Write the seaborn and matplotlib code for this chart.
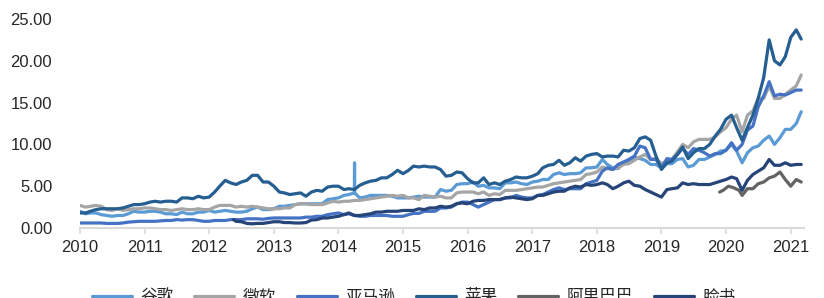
import numpy as np
import pandas as pd
import matplotlib
matplotlib.use("Agg")
import matplotlib.pyplot as plt
import matplotlib.dates as mdates
import seaborn as sns

# ---------------- data (market value, 100 bn USD) ----------------
companies = ["谷歌", "微软", "亚马逊", "苹果", "阿里巴巴", "脸书"]
colors = ["#5b9bd5", "#a5a5a5", "#4472c4", "#255e91", "#636363", "#264478"]

# monthly grid 2010-01 .. 2021-03 for the four long series
month_grid = pd.date_range("2010-01-01", "2021-03-01", freq="MS")

google = [
    2.0, 1.7, 1.8, 1.8, 1.6, 1.5, 1.4, 1.5, 1.5, 1.7, 2.0, 1.9,
    1.9, 2.0, 2.0, 1.9, 1.7, 1.7, 1.6, 1.9, 1.7, 1.7, 1.9, 1.9,
    2.1, 1.9, 2.0, 2.1, 2.0, 1.9, 1.9, 2.0, 2.3, 2.5, 2.2, 2.2,
    2.3, 2.6, 2.6, 2.7, 2.8, 2.9, 2.9, 2.9, 2.9, 2.9, 3.4, 3.5,
    3.6, 3.9, 4.0, 4.2, 3.6, 3.7, 3.9, 3.9, 3.9, 3.9, 3.8, 3.6,
    3.6, 3.6, 3.7, 3.8, 3.7, 3.7, 3.7, 4.6, 4.4, 4.5, 5.2, 5.3,
    5.3, 5.5, 5.0, 5.1, 4.8, 4.8, 4.7, 5.4, 5.4, 5.5, 5.3, 5.2,
    5.5, 5.6, 5.8, 5.8, 6.4, 6.6, 6.4, 6.5, 6.5, 6.6, 7.2, 7.2,
    7.3, 8.2, 7.6, 7.2, 7.1, 7.8, 7.8, 8.5, 8.3, 8.1, 7.6, 7.6,
    7.2, 7.7, 7.7, 8.2, 8.3, 7.3, 7.5, 8.2, 8.2, 8.5, 8.8, 9.2,
    9.3, 10.0, 9.2, 7.8, 9.0, 9.6, 9.8, 10.5, 11.0, 10.0, 10.8, 11.8,
    11.8, 12.5, 13.9,
]
# one-day data glitch visible on the Google line (April 2014)
google_spike_dates = ["2014-04-02", "2014-04-03"]
google_spike_vals = [7.8, 4.2]

microsoft = [
    2.7, 2.5, 2.6, 2.7, 2.6, 2.2, 2.1, 2.3, 2.1, 2.2, 2.3, 2.3,
    2.4, 2.4, 2.3, 2.2, 2.2, 2.1, 2.2, 2.3, 2.2, 2.2, 2.3, 2.2,
    2.2, 2.5, 2.7, 2.7, 2.7, 2.5, 2.6, 2.5, 2.6, 2.5, 2.4, 2.3,
    2.3, 2.3, 2.4, 2.4, 2.8, 2.9, 2.9, 2.8, 2.8, 2.8, 3.0, 3.2,
    3.1, 3.2, 3.2, 3.3, 3.3, 3.4, 3.5, 3.6, 3.7, 3.8, 3.9, 3.8,
    3.9, 3.6, 3.6, 3.4, 3.9, 3.8, 3.7, 3.8, 3.6, 3.6, 4.2, 4.3,
    4.3, 4.3, 4.1, 4.3, 3.9, 4.1, 4.0, 4.5, 4.5, 4.5, 4.6, 4.7,
    4.8, 4.9, 4.9, 5.1, 5.3, 5.4, 5.5, 5.6, 5.7, 5.8, 6.4, 6.5,
    6.7, 7.3, 7.1, 7.0, 7.2, 7.6, 7.7, 8.1, 8.5, 8.8, 8.2, 8.3,
    7.7, 8.0, 8.2, 9.1, 10.0, 9.6, 10.3, 10.6, 10.6, 10.6, 10.9, 11.5,
    12.0, 13.0, 13.5, 11.5, 13.5, 14.0, 15.5, 15.5, 17.0, 15.5, 15.5, 16.0,
    16.5, 17.0, 18.3,
]

amazon = [
    0.6, 0.6, 0.6, 0.6, 0.6, 0.55, 0.55, 0.55, 0.6, 0.7, 0.75, 0.8,
    0.8, 0.8, 0.8, 0.85, 0.9, 0.9, 1.0, 0.95, 1.0, 1.0, 0.9, 0.8,
    0.8, 0.9, 0.9, 0.9, 1.0, 1.0, 1.0, 1.1, 1.1, 1.1, 1.05, 1.15,
    1.2, 1.2, 1.2, 1.2, 1.2, 1.2, 1.3, 1.3, 1.4, 1.4, 1.6, 1.7,
    1.8, 1.6, 1.7, 1.5, 1.4, 1.4, 1.5, 1.5, 1.5, 1.5, 1.4, 1.4,
    1.4, 1.6, 1.75, 1.75, 2.0, 2.0, 2.0, 2.4, 2.4, 2.5, 2.9, 3.1,
    3.1, 2.8, 2.5, 2.8, 3.1, 3.4, 3.4, 3.6, 3.6, 3.9, 3.7, 3.6,
    3.6, 3.9, 4.0, 4.3, 4.6, 4.8, 4.6, 4.7, 4.7, 4.7, 5.3, 5.5,
    5.7, 6.8, 7.2, 7.0, 7.6, 7.9, 8.2, 8.6, 9.8, 9.6, 8.2, 8.2,
    7.2, 8.3, 8.2, 8.8, 9.5, 8.8, 9.5, 9.3, 9.0, 8.6, 8.9, 8.9,
    9.3, 10.2, 9.3, 10.0, 11.7, 12.2, 14.5, 15.8, 17.5, 15.8, 16.0, 15.9,
    16.2, 16.5, 16.5,
]

apple = [
    1.8, 1.8, 2.0, 2.2, 2.3, 2.3, 2.3, 2.3, 2.4, 2.6, 2.8, 2.8,
    2.9, 3.1, 3.2, 3.1, 3.2, 3.2, 3.1, 3.6, 3.6, 3.5, 3.8, 3.6,
    3.7, 4.3, 5.0, 5.7, 5.4, 5.2, 5.5, 5.7, 6.3, 6.3, 5.5, 5.5,
    5.0, 4.3, 4.2, 4.0, 4.1, 4.2, 3.8, 4.3, 4.5, 4.4, 4.9, 5.0,
    5.0, 4.6, 4.7, 4.6, 5.1, 5.4, 5.6, 5.7, 6.0, 6.0, 6.4, 6.9,
    6.5, 6.9, 7.4, 7.3, 7.4, 7.3, 7.3, 7.0, 6.2, 6.3, 6.7, 6.6,
    5.9, 5.4, 5.4, 6.0, 5.2, 5.4, 5.2, 5.6, 5.8, 6.1, 6.0, 6.0,
    6.2, 6.5, 7.2, 7.5, 7.6, 8.1, 7.5, 7.8, 8.4, 8.0, 8.6, 8.8,
    8.9, 8.5, 8.6, 8.6, 8.5, 9.3, 9.2, 9.6, 10.7, 10.9, 10.5, 8.6,
    7.0, 7.8, 8.0, 8.8, 9.7, 8.3, 9.0, 9.5, 9.5, 10.0, 11.0, 11.8,
    13.0, 13.5, 12.0, 10.5, 12.0, 13.5, 15.5, 18.0, 22.5, 20.0, 19.5, 20.5,
    22.8, 23.7, 22.6,
]

alibaba_dates = ["2019-11-26", "2019-12-15", "2020-01-15", "2020-02-15", "2020-03-15",
                 "2020-04-01", "2020-05-01", "2020-06-01", "2020-07-01", "2020-08-01",
                 "2020-09-01", "2020-10-01", "2020-11-01", "2020-12-01", "2021-01-01",
                 "2021-02-01", "2021-03-01"]
alibaba = [4.3, 4.5, 5.0, 4.8, 4.5, 3.9, 4.7, 4.7, 5.3, 5.5, 6.0, 6.2, 6.7, 5.8, 5.0, 5.8, 5.5]

facebook_dates = ["2012-05-18"] + [d.strftime("%Y-%m-%d") for d in
                                   pd.date_range("2012-06-01", "2021-03-01", freq="MS")]
facebook = [
    1.0, 0.8, 0.75, 0.55, 0.5, 0.55, 0.55, 0.65,
    0.75, 0.75, 0.65, 0.65, 0.6, 0.6, 0.65, 0.95, 1.0, 1.2, 1.2, 1.3,
    1.4, 1.6, 1.8, 1.5, 1.5, 1.6, 1.7, 1.9, 1.9, 2.0, 2.0, 2.0,
    2.1, 2.1, 2.1, 2.3, 2.2, 2.4, 2.4, 2.6, 2.5, 2.6, 2.9, 3.0,
    2.9, 3.2, 3.3, 3.3, 3.4, 3.4, 3.4, 3.6, 3.7, 3.6, 3.5, 3.4,
    3.5, 3.9, 3.9, 4.1, 4.3, 4.4, 4.4, 4.8, 5.0, 4.9, 5.2, 5.1,
    5.2, 5.4, 5.2, 4.7, 5.0, 5.4, 5.6, 5.1, 5.0, 4.6, 4.3, 4.0,
    3.7, 4.6, 4.7, 4.8, 5.4, 5.2, 5.3, 5.2, 5.2, 5.2, 5.4, 5.6,
    5.8, 6.1, 5.9, 4.5, 5.7, 6.4, 6.8, 7.2, 8.2, 7.5, 7.5, 7.8,
    7.5, 7.6, 7.6,
]

years = list(range(2010, 2022))
y_ticks = [0, 5, 10, 15, 20, 25]

# ---------------- long-form table ----------------
frames = []
g_dates = list(month_grid) + list(pd.to_datetime(google_spike_dates))
frames.append(pd.DataFrame({"date": g_dates, "value": google + google_spike_vals, "company": "谷歌"}))
frames.append(pd.DataFrame({"date": month_grid, "value": microsoft, "company": "微软"}))
frames.append(pd.DataFrame({"date": month_grid, "value": amazon, "company": "亚马逊"}))
frames.append(pd.DataFrame({"date": month_grid, "value": apple, "company": "苹果"}))
frames.append(pd.DataFrame({"date": pd.to_datetime(alibaba_dates), "value": alibaba, "company": "阿里巴巴"}))
frames.append(pd.DataFrame({"date": pd.to_datetime(facebook_dates), "value": facebook, "company": "脸书"}))
df = pd.concat(frames, ignore_index=True).sort_values(["company", "date"])

# ---------------- plot ----------------
sns.set_theme(style="white")
plt.rcParams["font.family"] = ["Liberation Sans", "Noto Sans CJK SC", "DejaVu Sans"]

fig = plt.figure(figsize=(8.24, 2.98), dpi=100)
ax = fig.add_axes([80 / 824, 1 - 228 / 298, (803.5 - 80) / 824, (228 - 19) / 298])

sns.lineplot(data=df, x="date", y="value", hue="company", hue_order=companies,
             palette=colors, estimator=None, sort=True, linewidth=2.3, ax=ax)

ax.set_xlim(pd.Timestamp("2010-01-01"), pd.Timestamp("2021-03-14"))
ax.set_ylim(0, 25)
ax.set_yticks(y_ticks)
ax.set_yticklabels([f"{v:.2f}" for v in y_ticks])
ax.set_xticks([pd.Timestamp(f"{y}-01-01") for y in years])
ax.set_xticklabels([str(y) for y in years])
ax.set_xlabel("")
ax.set_ylabel("")

for s in ["top", "right", "left"]:
    ax.spines[s].set_visible(False)
ax.spines["bottom"].set_color("#d9d9d9")
ax.spines["bottom"].set_linewidth(1.5)
ax.tick_params(axis="x", which="major", length=4, width=1.2, color="#d9d9d9",
               labelsize=12, labelcolor="#262626", pad=5, direction="out", bottom=True)
ax.tick_params(axis="y", length=0, labelsize=12, labelcolor="#262626", pad=20)
ax.grid(False)

handles, labels = ax.get_legend_handles_labels()
ax.get_legend().remove()
leg = fig.legend(handles, labels, loc="center", bbox_to_anchor=(0.502, 1 / 298),
                 ncol=6, frameon=False, handlelength=2.4, handletextpad=0.5,
                 columnspacing=1.25, prop={"family": ["Noto Sans CJK SC"], "size": 12})
for t in leg.get_texts():
    t.set_color("#262626")
for h in leg.get_lines():
    h.set_linewidth(2.3)

fig.savefig("out.png", dpi=100)
